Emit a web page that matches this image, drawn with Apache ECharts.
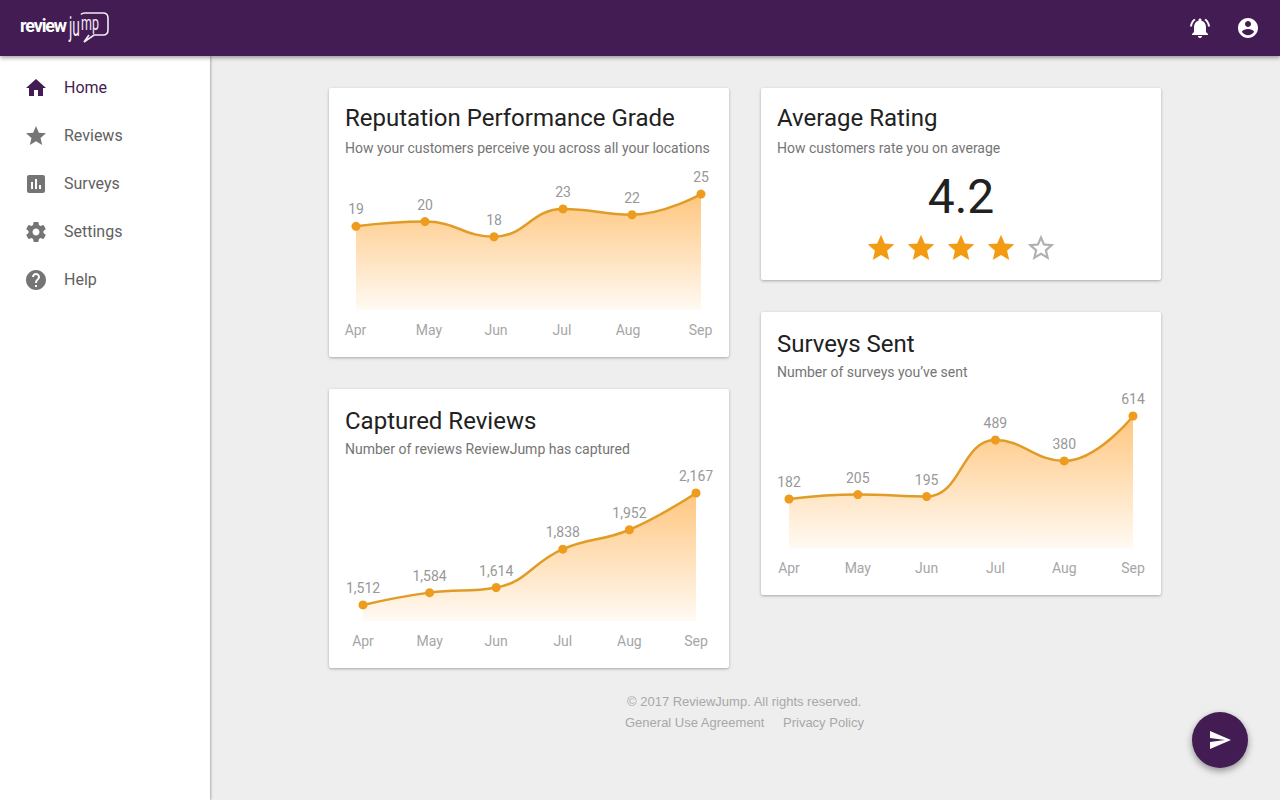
<!DOCTYPE html>
<html><head><meta charset="utf-8">
<script src="https://cdn.jsdelivr.net/npm/echarts@6/dist/echarts.min.js"></script>
<style>
html,body{margin:0;padding:0;width:1280px;height:800px;overflow:hidden;background:#eee;font-family:Roboto,sans-serif}
.hdr{position:absolute;left:0;top:0;width:1280px;height:56px;background:#421c52;box-shadow:0 2px 4px rgba(0,0,0,.35);z-index:3}
.side{position:absolute;left:0;top:56px;width:210px;height:744px;background:#fff;box-shadow:1px 0 2px rgba(0,0,0,.28);z-index:2}
.nav{position:absolute;left:64px;font-size:16px;line-height:24px;color:#616161}
.ic{position:absolute;width:24px;height:24px;fill:#757575}
.card{position:absolute;width:400px;background:#fff;border-radius:2px;box-shadow:0 1px 3px rgba(0,0,0,.3)}
.t{position:absolute;left:16px;font-size:24px;line-height:30px;color:#212121;white-space:nowrap}
.s{position:absolute;left:16px;font-size:14px;line-height:20px;color:#757575;white-space:nowrap}
.c{position:absolute;left:0;top:0;width:400px;height:100%}
.foot{position:absolute;font-family:"Liberation Sans",Arial,sans-serif;font-size:13px;line-height:16px;color:#a8a8a8;white-space:nowrap}
.fab{position:absolute;left:1192px;top:712px;width:56px;height:56px;border-radius:50%;background:#421c52;box-shadow:0 3px 7px rgba(0,0,0,.4)}
</style></head><body>
<div class="hdr">
<svg style="position:absolute;left:18px;top:8px" width="96" height="40" viewBox="0 0 96 40">
<text x="2" y="24" font-family="Roboto" font-weight="700" font-size="18" fill="#fff" textLength="47">review</text>
<text transform="translate(51,28) scale(.72,1.5)" font-family="Roboto" font-weight="400" font-size="19" fill="#f5e9f5">ju</text>
<path d="M63 6.5 Q64 5 67 5 L85 5 Q90 5 90 10 L90 22 Q90 27 85 27 L76 27 L66 34 L71 27" fill="none" stroke="#f5e9f5" stroke-width="1.6"/>
<text transform="translate(63,22) scale(.78,1.3)" font-family="Roboto" font-weight="400" font-size="16" fill="#f5e9f5">mp</text>
</svg>
<svg class="ic" style="left:1188px;top:16px;fill:#fff" viewBox="0 0 24 24"><path d="M7.58 4.08L6.15 2.65C3.75 4.48 2.17 7.3 2.03 10.5h2c.15-2.65 1.51-4.97 3.55-6.42zm12.39 6.42h2c-.15-3.2-1.73-6.02-4.12-7.85l-1.42 1.43c2.02 1.45 3.39 3.77 3.54 6.42zM18 11c0-3.07-1.64-5.64-4.5-6.32V4c0-.83-.67-1.5-1.5-1.5s-1.5.67-1.5 1.5v.68C7.63 5.36 6 7.92 6 11v5l-2 2v1h16v-1l-2-2v-5zm-6 11c.14 0 .27-.01.4-.04.65-.14 1.18-.58 1.44-1.18.1-.24.15-.5.15-.78h-4c.01 1.1.9 2 2.01 2z"/></svg>
<svg class="ic" style="left:1236px;top:16px;fill:#fff" viewBox="0 0 24 24"><path d="M12 2C6.48 2 2 6.48 2 12s4.48 10 10 10 10-4.48 10-10S17.52 2 12 2zm0 3c1.66 0 3 1.34 3 3s-1.34 3-3 3-3-1.34-3-3 1.34-3 3-3zm0 14.2c-2.5 0-4.71-1.28-6-3.22.03-1.99 4-3.08 6-3.08 1.99 0 5.97 1.09 6 3.08-1.29 1.94-3.5 3.22-6 3.22z"/></svg>
</div>
<div class="side">
<svg class="ic" style="left:24px;top:20px;fill:#421c52" viewBox="0 0 24 24"><path d="M10 20v-6h4v6h5v-8h3L12 3 2 12h3v8z"/></svg><div class="nav" style="top:20px;color:#421c52">Home</div>
<svg class="ic" style="left:24px;top:68px" viewBox="0 0 24 24"><path d="M12 17.27L18.18 21l-1.64-7.03L22 9.24l-7.19-.61L12 2 9.19 8.63 2 9.24l5.46 4.73L5.82 21z"/></svg><div class="nav" style="top:68px">Reviews</div>
<svg class="ic" style="left:24px;top:116px" viewBox="0 0 24 24"><path d="M19 3H5c-1.1 0-2 .9-2 2v14c0 1.1.9 2 2 2h14c1.1 0 2-.9 2-2V5c0-1.1-.9-2-2-2zM9 17H7v-7h2v7zm4 0h-2V7h2v10zm4 0h-2v-4h2v4z"/></svg><div class="nav" style="top:116px">Surveys</div>
<svg class="ic" style="left:24px;top:164px" viewBox="0 0 24 24"><path d="M19.43 12.98c.04-.32.07-.64.07-.98s-.03-.66-.07-.98l2.11-1.65c.19-.15.24-.42.12-.64l-2-3.46c-.12-.22-.39-.3-.61-.22l-2.49 1c-.52-.4-1.08-.73-1.69-.98l-.38-2.65C14.46 2.18 14.25 2 14 2h-4c-.25 0-.46.18-.49.42l-.38 2.65c-.61.25-1.17.59-1.69.98l-2.49-1c-.23-.09-.49 0-.61.22l-2 3.46c-.13.22-.07.49.12.64l2.11 1.65c-.04.32-.07.65-.07.98s.03.66.07.98l-2.11 1.65c-.19.15-.24.42-.12.64l2 3.46c.12.22.39.3.61.22l2.49-1c.52.4 1.08.73 1.69.98l.38 2.65c.03.24.24.42.49.42h4c.25 0 .46-.18.49-.42l.38-2.65c.61-.25 1.17-.59 1.69-.98l2.49 1c.23.09.49 0 .61-.22l2-3.46c.12-.22.07-.49-.12-.64l-2.11-1.65zM12 15.5c-1.93 0-3.5-1.57-3.5-3.5s1.57-3.5 3.5-3.5 3.5 1.57 3.5 3.5-1.57 3.5-3.5 3.5z"/></svg><div class="nav" style="top:164px">Settings</div>
<svg class="ic" style="left:24px;top:212px" viewBox="0 0 24 24"><path d="M12 2C6.48 2 2 6.48 2 12s4.48 10 10 10 10-4.48 10-10S17.52 2 12 2zm1 17h-2v-2h2v2zm2.07-7.75l-.9.92C13.45 12.9 13 13.5 13 15h-2v-.5c0-1.1.45-2.1 1.17-2.83l1.24-1.26c.37-.36.59-.86.59-1.41 0-1.1-.9-2-2-2s-2 .9-2 2H8c0-2.21 1.79-4 4-4s4 1.79 4 4c0 .88-.36 1.68-.93 2.25z"/></svg><div class="nav" style="top:212px">Help</div>
</div>

<div class="card" style="left:329px;top:88px;height:269px"><div class="c" id="gradeChart"></div><div class="t" style="top:15px">Reputation Performance Grade</div><div class="s" style="top:50px">How your customers perceive you across all your locations</div></div>
<div class="card" style="left:329px;top:389px;height:279px"><div class="c" id="reviewsChart"></div><div class="t" style="top:17px">Captured Reviews</div><div class="s" style="top:50px">Number of reviews ReviewJump has captured</div></div>
<div class="card" style="left:761px;top:88px;height:192px"><div class="t" style="top:15px">Average Rating</div><div class="s" style="top:50px">How customers rate you on average</div>
<div id="rating" style="position:absolute;left:0;width:400px;top:81px;text-align:center;font-size:48px;line-height:56px;color:#212121">4.2</div>
<div id="stars"></div></div>
<div class="card" style="left:761px;top:312px;height:283px"><div class="c" id="surveysChart"></div><div class="t" style="top:17px">Surveys Sent</div><div class="s" style="top:50px">Number of surveys you’ve sent</div></div>

<div class="foot" style="left:627px;top:694px">© 2017 ReviewJump. All rights reserved.</div>
<div class="foot" style="left:625px;top:715px">General Use Agreement</div>
<div class="foot" style="left:783px;top:715px">Privacy Policy</div>
<div class="fab"><svg class="ic" style="left:16px;top:16px;fill:#fff" viewBox="0 0 24 24"><path d="M2.01 21L23 12 2.01 3 2 10l15 2-15 2z"/></svg></div>

<script>
const months = ['Apr','May','Jun','Jul','Aug','Sep'];
const gradeValues = [19.45,20.3,17.55,22.6,21.55,25.3];
const reviewValues = [1512,1584,1614,1838,1952,2167];
const surveyValues = [182,205,195,489,380,614];
const averageRating = 4.2;
const starsTotal = 5;

function drawChart(id, values, opt){
  const rich = {};
  const shift = opt.shift || [0,0,0,0,0,0];
  shift.forEach((d,i)=>{ rich['s'+i] = {padding: d>0 ? [0,0,0,2*d] : [0,-2*d,0,0], fontSize:14, color:'#a6a6a6', fontFamily:'Roboto'}; });
  const chart = echarts.init(document.getElementById(id), null, {renderer:'svg'});
  chart.setOption({
    animation:false,
    grid:{left:opt.left, top:opt.top, width:opt.width, height:opt.height},
    xAxis:{type:'category', data:months, boundaryGap:false,
      axisLine:{show:false}, axisTick:{show:false}, splitLine:{show:false},
      axisLabel:{interval:0, margin:13, fontSize:14, color:'#a6a6a6', fontFamily:'Roboto', hideOverlap:false,
        formatter:(v,i)=>'{s'+i+'|'+v+'}', rich}},
    yAxis:{type:'value', min:opt.min, max:opt.max, show:false, splitLine:{show:false}},
    series:[{type:'line', data:values, smooth:0.45, symbol:'circle', symbolSize:9, silent:true,
      clip:false,
      lineStyle:{color:'#e09c26', width:2.5},
      itemStyle:{color:'#ee9c1e'},
      areaStyle:{origin:'start', opacity:1, color:new echarts.graphic.LinearGradient(0,0,0,1,[{offset:0,color:'#ffc67f'},{offset:1,color:'#fffaf3'}])},
      label:{show:true, position:'top', distance:5.5, fontSize:14, color:'#989898', fontFamily:'Roboto',
        formatter:p=>Math.round(p.value).toLocaleString('en-US')}}]
  });
}
drawChart('gradeChart', gradeValues, {left:27,top:106,width:345,height:116,min:4.23,max:25.32,shift:[-0.5,4,2,-1,-4,-0.5]});
drawChart('reviewsChart', reviewValues, {left:34,top:104,width:333,height:128,min:1418,max:2167});
drawChart('surveysChart', surveyValues, {left:28,top:104,width:344,height:132,min:-73,max:614});

const filled='M12 17.27L18.18 21l-1.64-7.03L22 9.24l-7.19-.61L12 2 9.19 8.63 2 9.24l5.46 4.73L5.82 21z';
const empty='M22 9.24l-7.19-.62L12 2 9.19 8.63 2 9.24l5.46 4.73L5.82 21 12 17.27 18.18 21l-1.63-7.03L22 9.24zM12 15.4l-3.76 2.27 1-4.28-3.32-2.88 4.38-.38L12 6.1l1.71 4.04 4.38.38-3.32 2.88 1 4.28L12 15.4z';
let html='';
for(let i=0;i<starsTotal;i++){
  const on=i<Math.floor(averageRating);
  html+='<svg style="position:absolute;left:'+(104+40*i)+'px;top:144px" width="32" height="32" viewBox="0 0 24 24"><path fill="'+(on?'#f39c12':'#b0b0b0')+'" d="'+(on?filled:empty)+'"/></svg>';
}
document.getElementById('stars').innerHTML=html;
</script>
</body></html>
